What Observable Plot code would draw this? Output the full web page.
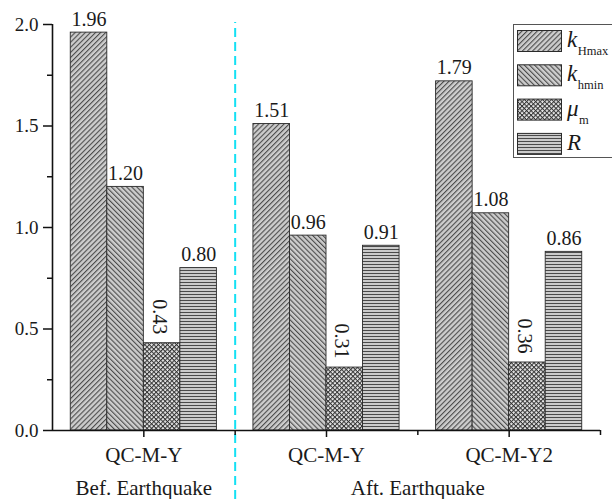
<!DOCTYPE html>
<html>
<head>
<meta charset="utf-8">
<script src="https://cdn.jsdelivr.net/npm/d3@7"></script>
<script src="https://cdn.jsdelivr.net/npm/@observablehq/plot@0.6"></script>
<style>
  html, body { margin: 0; padding: 0; background: #fff; overflow: hidden; }
  #wrap { position: relative; width: 612px; height: 499px; overflow: hidden; }
  #legend { position: absolute; left: 513px; top: 24px; }
  svg text { font-family: "Liberation Serif", "Times New Roman", Times, "DejaVu Serif", serif !important; }
</style>
</head>
<body>
<svg width="0" height="0" style="position:absolute">
  <defs>
    <pattern id="pat0" patternUnits="userSpaceOnUse" width="3.6" height="3.6" patternTransform="rotate(45)">
      <rect width="3.6" height="3.6" fill="#cdcdcd"/>
      <line x1="0.6" y1="0" x2="0.6" y2="3.6" stroke="#3c3c3c" stroke-width="1"/>
    </pattern>
    <pattern id="pat1" patternUnits="userSpaceOnUse" width="3.6" height="3.6" patternTransform="rotate(-45)">
      <rect width="3.6" height="3.6" fill="#cdcdcd"/>
      <line x1="0.6" y1="0" x2="0.6" y2="3.6" stroke="#3c3c3c" stroke-width="1"/>
    </pattern>
    <pattern id="pat2" patternUnits="userSpaceOnUse" width="3.2" height="3.2" patternTransform="rotate(45)">
      <rect width="3.2" height="3.2" fill="#e6e6e6"/>
      <line x1="0.5" y1="0" x2="0.5" y2="3.2" stroke="#333" stroke-width="1"/>
      <line x1="0" y1="0.5" x2="3.2" y2="0.5" stroke="#333" stroke-width="1"/>
    </pattern>
    <pattern id="pat3" patternUnits="userSpaceOnUse" width="4" height="3">
      <rect width="4" height="3" fill="#cbcbcb"/>
      <line x1="0" y1="0.5" x2="4" y2="0.5" stroke="#4a4a4a" stroke-width="1"/>
    </pattern>
  </defs>
</svg>
<div id="wrap">
  <div id="chart"></div>
  <svg id="legend" width="105" height="135"></svg>
</div>
<script>
// ---- data ----
const groups = ["QC-M-Y", "QC-M-Y", "QC-M-Y2"];
const seriesKeys = ["kHmax", "khmin", "mu_m", "R"];
const kHmax = [1.96, 1.51, 1.72];
const khmin = [1.20, 0.96, 1.07];
const muM = [0.43, 0.31, 0.335];
const Rvals = [0.80, 0.91, 0.88];
const kHmaxLabels = ["1.96", "1.51", "1.79"];
const khminLabels = ["1.20", "0.96", "1.08"];
const muMLabels = ["0.43", "0.31", "0.36"];
const RLabels = ["0.80", "0.91", "0.86"];
const captions = ["Bef. Earthquake", "Aft. Earthquake"];
const captionPos = [1, 2.5];
const yTicks = [0, 0.5, 1.0, 1.5, 2.0];
const yMinor = [0.25, 0.75, 1.25, 1.75];
const xMajor = [1, 2, 3];
const xMinor = [1.5, 2.5, 3.5];

const seriesVals = [kHmax, khmin, muM, Rvals];
const seriesLabels = [kHmaxLabels, khminLabels, muMLabels, RLabels];
const barW = 0.2;
const rows = [];
seriesVals.forEach((vals, s) => {
  vals.forEach((v, g) => {
    const x1 = (g + 1) + (s - 2) * barW;
    rows.push({s, g, v, x1, x2: x1 + barW, xc: x1 + barW / 2, label: seriesLabels[s][g]});
  });
});

const font = "'Liberation Serif', 'Times New Roman', Times, 'DejaVu Serif', serif";

const chart = Plot.plot({
  width: 612,
  height: 499,
  marginLeft: 52,
  marginRight: 12,
  marginTop: 24,
  marginBottom: 69,
  x: {domain: [0.5, 3.5], axis: null},
  y: {domain: [0, 2], axis: null},
  style: {fontFamily: font, fontSize: "18px", color: "#1a1a1a", background: "white", overflow: "visible"},
  marks: [
    ...seriesKeys.map((k, s) =>
      Plot.rect(rows.filter(d => d.s === s), {
        x1: "x1", x2: "x2", y1: 0, y2: "v",
        fill: `url(#pat${s})`, stroke: "#2a2a2a", strokeWidth: 0.9
      })
    ),
    Plot.text(rows.filter(d => d.s !== 2), {
      x: "xc", y: "v", text: "label", dy: -7, lineAnchor: "bottom",
      fontSize: 20, fill: "#1a1a1a"
    }),
    Plot.text(rows.filter(d => d.s === 2), {
      x: "xc", y: "v", text: "label", rotate: 90, textAnchor: "end",
      lineAnchor: "middle", dx: -3, dy: -9, fontSize: 20, fill: "#1a1a1a"
    }),
    Plot.ruleX([1.5], {y1: -0.34, y2: 2.01, stroke: "#14e0f4", strokeWidth: 2, strokeDasharray: "9,5"}),
    Plot.ruleY([0], {stroke: "#111", strokeWidth: 1.6}),
    Plot.ruleX([0.5], {stroke: "#111", strokeWidth: 1.6}),
    Plot.axisY(yTicks, {anchor: "left", label: null, tickSize: 9, tickPadding: 5, tickFormat: d3.format(".1f"),
      fontSize: 19, stroke: "#111", strokeWidth: 1.5, fill: "#1a1a1a"}),
    Plot.axisY(yMinor, {anchor: "left", label: null, tickSize: 5, tickFormat: () => "", stroke: "#111", strokeWidth: 1.5}),
    Plot.axisX(xMajor, {anchor: "bottom", label: null, tickSize: 7, tickPadding: 10, tickFormat: d => groups[d - 1],
      fontSize: 21, stroke: "#111", strokeWidth: 1.5, fill: "#1a1a1a"}),
    Plot.axisX(xMinor, {anchor: "bottom", label: null, tickSize: 5, tickFormat: () => "", stroke: "#111", strokeWidth: 1.5}),
    Plot.text(captions, {x: (d, i) => captionPos[i], frameAnchor: "bottom", dy: 64, lineAnchor: "bottom",
      text: d => d, fontSize: 21, fill: "#1a1a1a"})
  ]
});
document.getElementById("chart").appendChild(chart);

// ---- legend ----
const legendItems = [
  {pat: 0, main: "k", sub: "Hmax"},
  {pat: 1, main: "k", sub: "hmin"},
  {pat: 2, main: "\u03bc", sub: "m"},
  {pat: 3, main: "R", sub: ""}
];
const lg = d3.select("#legend");
lg.append("rect").attr("x", 0.5).attr("y", 0.5).attr("width", 120).attr("height", 133)
  .attr("fill", "white").attr("stroke", "#555").attr("stroke-width", 1);
const rowStep = 34.3;
legendItems.forEach((it, i) => {
  const y0 = 6 + i * rowStep;
  lg.append("rect").attr("x", 4.5).attr("y", y0 + 0.5).attr("width", 44).attr("height", 21)
    .attr("fill", `url(#pat${it.pat})`).attr("stroke", "#2a2a2a").attr("stroke-width", 1);
  const t = lg.append("text").attr("x", 54).attr("y", y0 + 17).attr("fill", "#1a1a1a");
  t.append("tspan").text(it.main).style("font-style", "italic").style("font-size", "23px");
  if (it.sub) {
    t.append("tspan").text(it.sub).attr("dy", 8).attr("dx", 0.5).style("font-size", "12.5px");
  }
});
</script>
</body>
</html>
